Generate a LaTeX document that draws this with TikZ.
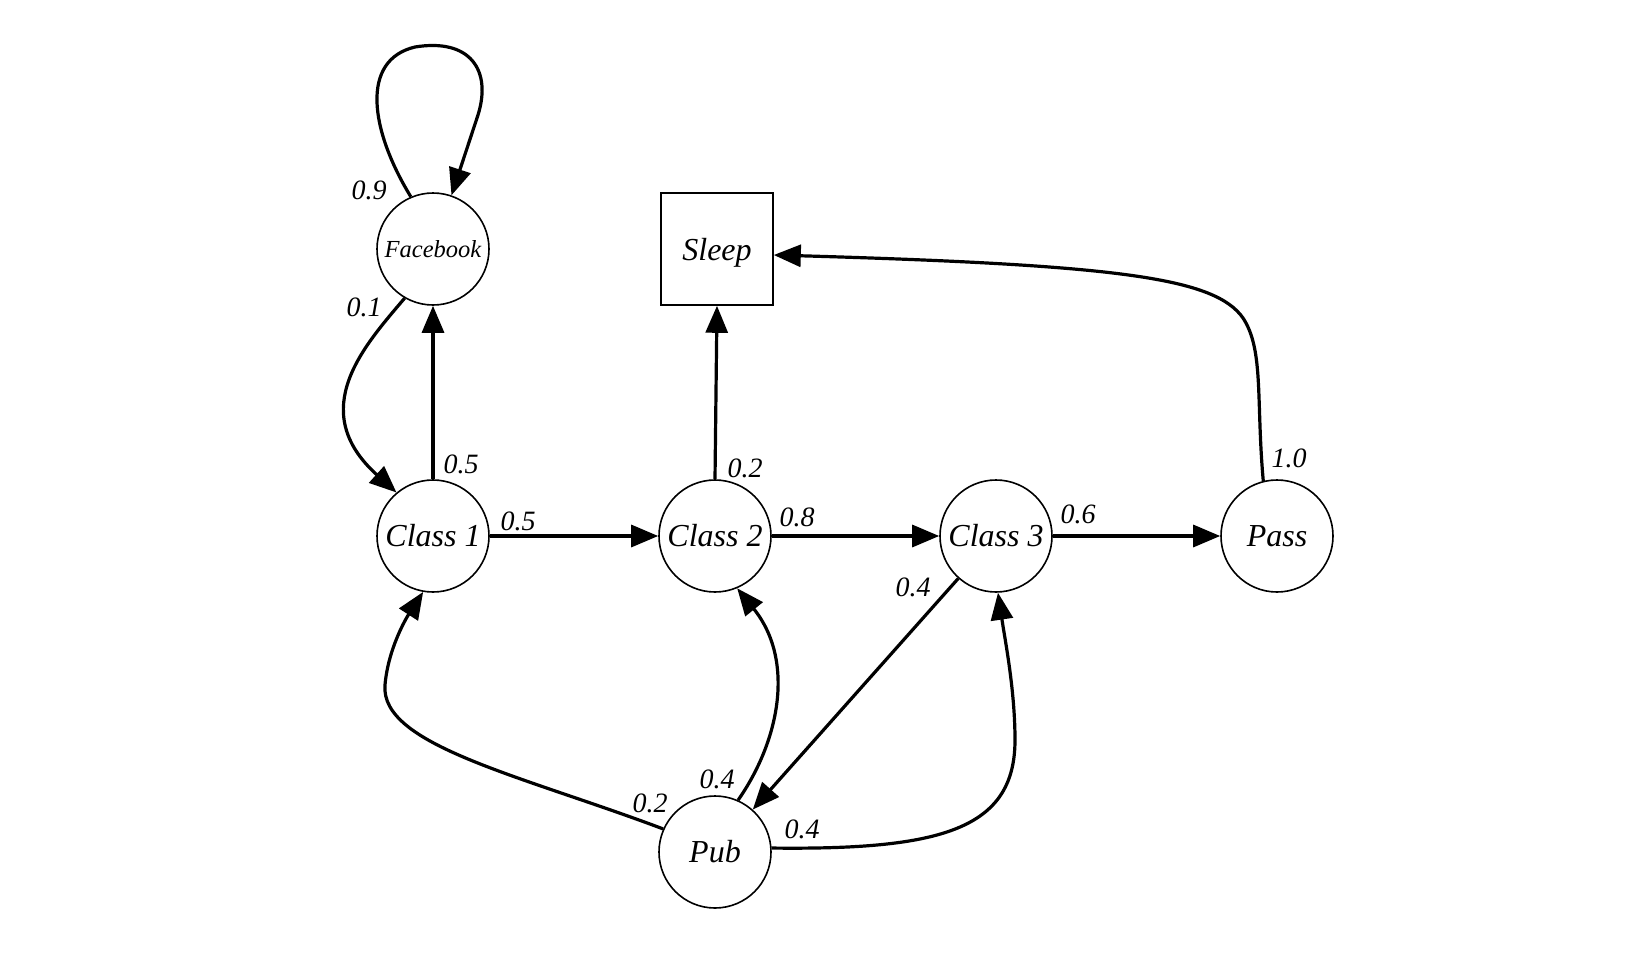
\documentclass[tikz,border=0pt]{standalone}
\usepackage{fontspec}
\setmainfont{Liberation Serif}
\usetikzlibrary{arrows.meta}

\tikzset{
  stnode/.style={draw, circle, line width=1.6pt, minimum size=112pt, inner sep=0pt,
    font=\fontsize{32}{32}\selectfont\itshape},
  sleepbox/.style={draw, rectangle, line width=1.6pt, minimum size=112pt, inner sep=0pt,
    text depth=0pt, font=\fontsize{32}{32}\selectfont\itshape},
  edge/.style={->, line width=3.2pt},
  lbl/.style={font=\fontsize{28}{28}\selectfont\itshape, inner sep=0pt}
}

\begin{document}
\begin{tikzpicture}[x=1pt, y=-1pt, >={Triangle[length=27pt, width=22pt]}]
  \useasboundingbox (0,0) rectangle (1644,959);

  \node[stnode] (fb) at (433,249) {\fontsize{24.5}{24.5}\selectfont Facebook};
  \node[sleepbox] (sleep) at (717,249) {Sleep};
  \node[stnode] (c1) at (433,536) {Class 1};
  \node[stnode] (c2) at (715,536) {Class 2};
  \node[stnode] (c3) at (996,536) {Class 3};
  \node[stnode] (pass) at (1277,536) {Pass};
  \node[stnode] (pub) at (715,852) {Pub};

  % straight edges
  \draw[edge] (c1.north) -- (fb.south);
  \draw[edge] (c1) -- (c2);
  \draw[edge] (c2) -- (c3);
  \draw[edge] (c3) -- (pass);
  \draw[edge] (c2.north) -- (sleep.south);
  \draw[edge] (c3) -- (pub);

  % Facebook loop and back to Class 1
  \draw[edge] (fb.113) .. controls (370,130) and (360,60) .. (415,47)
    .. controls (470,38) and (492,70) .. (478,115) -- (fb.71);
  \draw[edge] (fb.240) .. controls (365,345) and (305,410) .. (c1.130);

  % Pass -> Sleep
  \draw[edge] (pass.104) .. controls (1256,400) and (1264,350) .. (1243,318)
    .. controls (1215,278) and (1120,265) .. ([yshift=-6pt]sleep.east);

  % out of Pub
  \draw[edge] (pub.156) .. controls (520,775) and (380,745) .. (385,685)
    .. controls (388,650) and (405,620) .. (c1.260);
  \draw[edge] (pub.66) .. controls (780,740) and (795,660) .. (c2.293);
  \draw[edge] (pub.4) .. controls (940,850) and (1015,830) .. (1015,740)
    .. controls (1015,690) and (1005,640) .. (c3.272);

  % probabilities
  \node[lbl] (l1) at (369,190) {0.9};
  \node[lbl] (l2) at (364,307) {0.1};
  \node[lbl] (l3) at (461,464) {0.5};
  \node[lbl] (l4) at (518,521) {0.5};
  \node[lbl] (l5) at (745,468) {0.2};
  \node[lbl] (l6) at (797,517) {0.8};
  \node[lbl] (l7) at (1078,514) {0.6};
  \node[lbl] (l8) at (1289,458) {1.0};
  \node[lbl] (l9) at (913,587) {0.4};
  \node[lbl] (l10) at (717,779) {0.4};
  \node[lbl] (l11) at (650,803) {0.2};
  \node[lbl] (l12) at (802,829) {0.4};
\end{tikzpicture}
\end{document}
